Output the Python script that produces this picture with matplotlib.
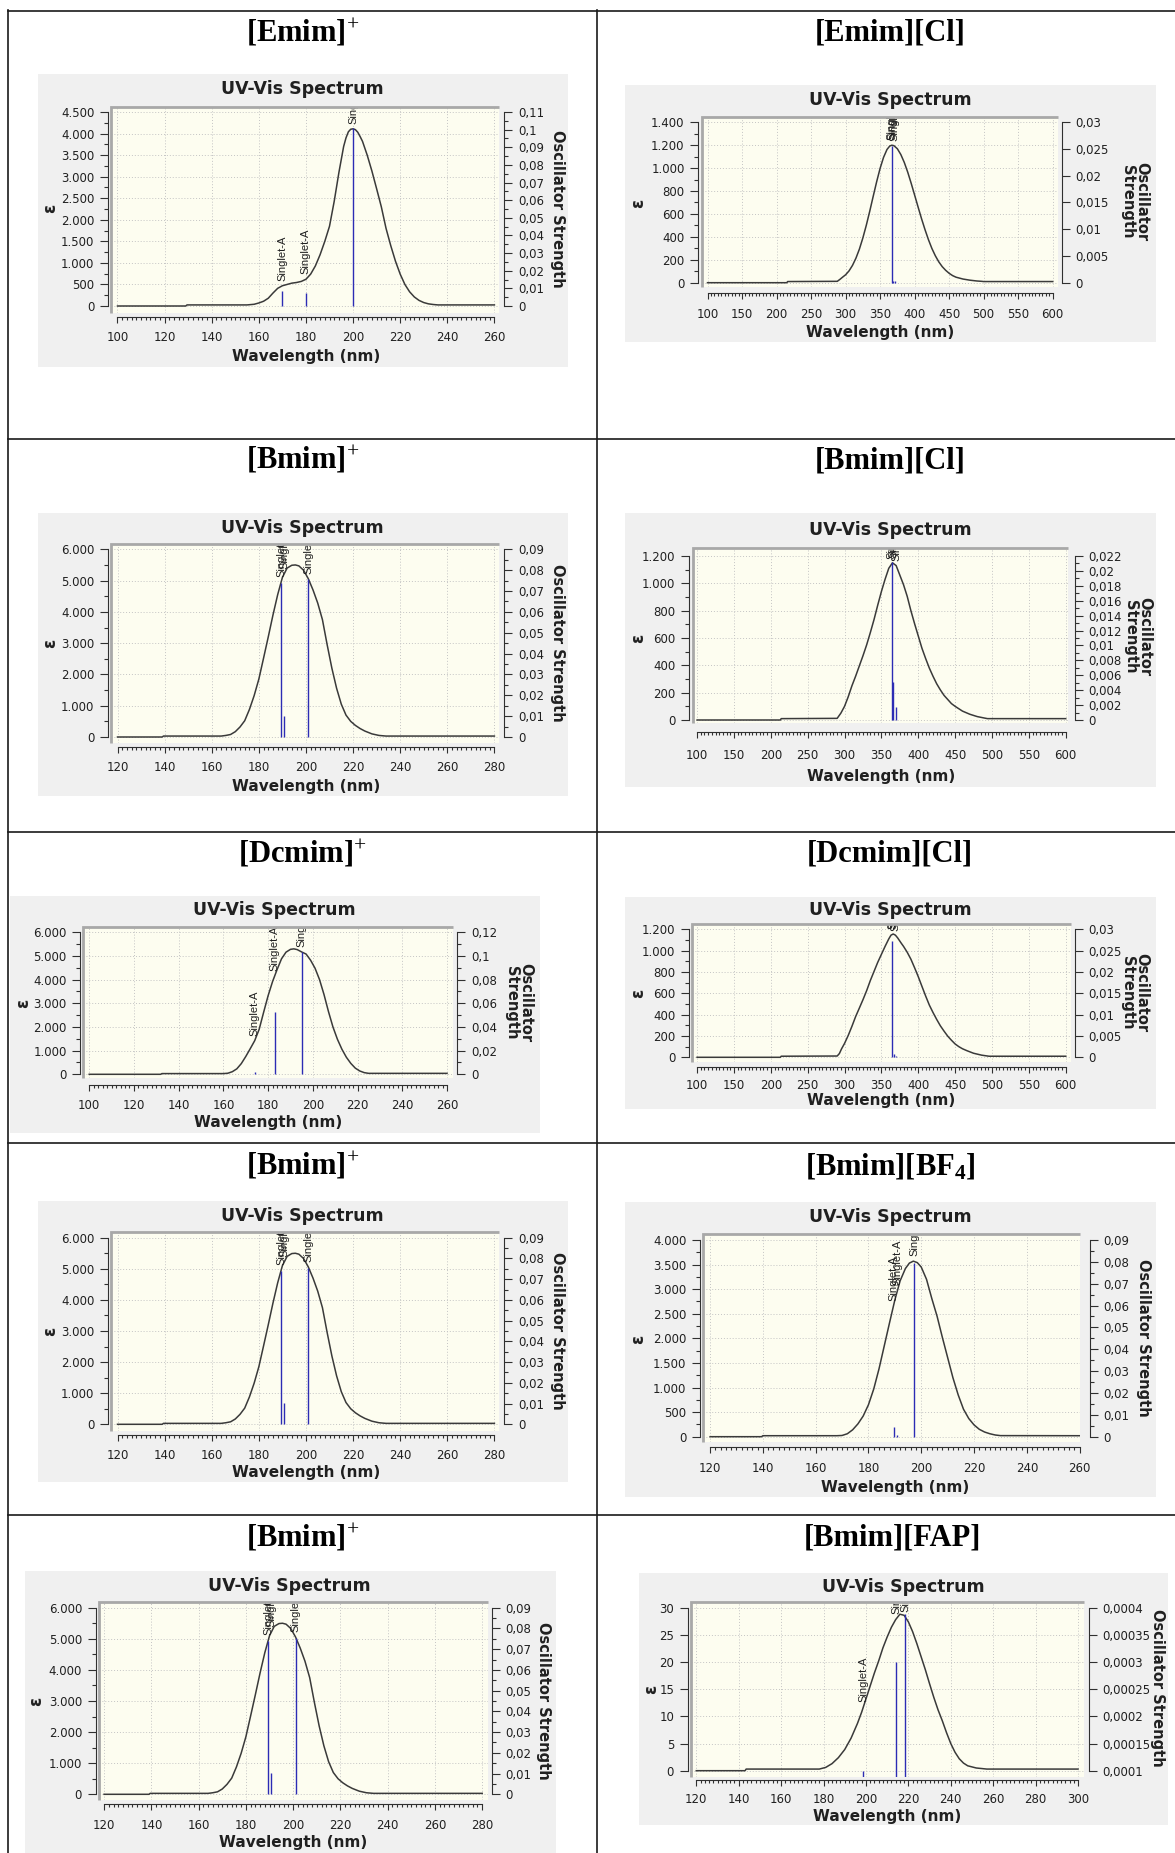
import numpy as np
import matplotlib
matplotlib.use("Agg")
import matplotlib.pyplot as plt
from matplotlib.lines import Line2D
from matplotlib.patches import Rectangle
from matplotlib.ticker import FixedLocator, FuncFormatter
from matplotlib.transforms import offset_copy

W, H = 1175, 1853

plt.rcParams["font.family"] = "DejaVu Sans"
plt.rcParams["mathtext.fontset"] = "custom"
plt.rcParams["mathtext.rm"] = "Liberation Serif"
plt.rcParams["mathtext.bf"] = "Liberation Serif:bold"
plt.rcParams["mathtext.it"] = "Liberation Serif:italic"

# ---- spectra (wavelength nm, epsilon) ----
emim_wl = [100, 129, 129.5, 155, 158, 160, 162, 164, 166, 168, 170, 172, 174, 176, 178, 180, 182,
           184, 186, 188, 190, 192, 194, 196, 197, 198, 199, 200, 201, 202, 203, 204, 206, 208,
           210, 212, 214, 216, 218, 220, 222, 224, 226, 228, 230, 232, 234, 236, 260]
emim_eps = [0, 0, 25, 25, 40, 70, 110, 180, 300, 410, 470, 500, 530, 545, 570, 620, 740,
            930, 1190, 1500, 1850, 2430, 3100, 3700, 3900, 4040, 4100, 4110, 4090, 4030, 3930, 3820, 3500, 3130,
            2720, 2300, 1800, 1400, 1040, 740, 500, 330, 210, 130, 80, 50, 35, 25, 25]
emim_stick_wl = [170, 180, 200]
emim_stick_f = [0.0085, 0.0075, 0.101]

emcl_wl = [100, 215, 216, 288, 292, 296, 300, 305, 310, 315, 320, 325, 330, 335, 340, 345, 350,
           355, 360, 364, 367, 370, 375, 380, 385, 390, 395, 400, 405, 410, 415, 420, 425, 430,
           435, 440, 445, 450, 455, 460, 470, 480, 490, 497, 500, 600]
emcl_eps = [0, 0, 10, 12, 30, 50, 69, 103, 151, 214, 293, 390, 501, 624, 754, 881, 998,
            1094, 1163, 1193, 1200, 1196, 1169, 1119, 1050, 965, 868, 765, 661, 559, 464, 376, 299, 235,
            182, 140, 108, 82, 62, 48, 32, 22, 15, 12, 10, 10]
emcl_stick_wl = [367, 368.5, 371]
emcl_stick_f = [0.0256, 0.0004, 0.0003]

bmim_wl = [120, 139, 139.5, 164, 166, 168, 170, 172, 174, 176, 178, 180, 182, 184, 186, 188, 190,
           192, 194, 195.5, 197, 199, 201, 203, 205, 207, 209, 211, 213, 215, 217, 219, 221, 223,
           225, 228, 231, 234, 280]
bmim_eps = [0, 0, 30, 30, 50, 80, 170, 320, 520, 880, 1320, 1850, 2520, 3200, 3900, 4550, 5100,
            5400, 5490, 5500, 5470, 5330, 5060, 4700, 4280, 3750, 2950, 2200, 1560, 1050, 700, 500, 370, 270,
            190, 100, 50, 30, 30]
bmim_stick_wl = [189.5, 190.8, 201]
bmim_stick_f = [0.0737, 0.0101, 0.0756]

bmcl_wl = [100, 213, 214, 290, 295, 300, 305, 310, 315, 320, 325, 330, 335, 340, 345, 350, 355,
           360, 365, 370, 375, 380, 385, 390, 395, 400, 405, 410, 415, 420, 425, 430, 435, 440,
           445, 450, 460, 470, 480, 490, 494, 600]
bmcl_eps = [0, 0, 10, 12, 50, 100, 170, 250, 320, 395, 470, 550, 640, 735, 840, 940, 1030,
            1110, 1150, 1130, 1060, 990, 905, 800, 705, 615, 525, 450, 380, 320, 265, 220, 180, 150,
            120, 100, 65, 42, 25, 14, 10, 10]
bmcl_stick_wl = [364, 366, 370]
bmcl_stick_f = [0.0212, 0.0051, 0.0018]

dcmim_wl = [100, 132, 132.5, 160, 162, 164, 166, 168, 170, 172, 174, 176, 178, 180, 182, 184, 186,
            188, 190, 191.5, 193, 195, 197, 199, 201, 203, 205, 207, 209, 211, 213, 215, 217, 219,
            221, 223, 225, 260]
dcmim_eps = [0, 0, 30, 30, 45, 110, 230, 450, 750, 1080, 1420, 1900, 2620, 3320, 3920, 4420, 4880,
             5160, 5280, 5300, 5270, 5170, 5080, 4820, 4480, 4000, 3370, 2650, 2000, 1480, 1060, 720, 460, 260,
             140, 70, 40, 40]
dcmim_stick_wl = [174, 183, 195]
dcmim_stick_f = [0.0022, 0.053, 0.1037]

dccl_wl = [100, 213, 214, 290, 293, 296, 300, 305, 310, 315, 320, 325, 330, 335, 340, 345, 350,
           355, 360, 363, 366, 369, 372, 377, 380, 385, 390, 395, 400, 405, 410, 415, 420, 425,
           430, 435, 440, 445, 450, 455, 460, 466, 475, 486, 496, 600]
dccl_eps = [0, 0, 10, 12, 35, 80, 130, 205, 290, 381, 460, 540, 625, 720, 805, 890, 965,
            1040, 1110, 1145, 1156, 1145, 1120, 1069, 1040, 985, 920, 840, 756, 665, 575, 490, 420, 355,
            295, 245, 198, 160, 125, 100, 80, 62, 38, 20, 10, 10]
dccl_stick_wl = [365, 366.5, 369.5]
dccl_stick_f = [0.0273, 0.0008, 0.0004]

bf4_wl = [120, 139.5, 140, 168, 170, 172, 174, 176, 178, 180, 182, 184, 186, 188, 190, 192, 194,
          195.5, 197, 198.5, 200, 202, 204, 206, 208, 210, 212, 214, 216, 218, 220, 222, 224, 226,
          228, 230, 260]
bf4_eps = [0, 0, 20, 20, 25, 60, 140, 260, 420, 650, 970, 1380, 1850, 2320, 2780, 3170, 3420,
           3530, 3570, 3540, 3450, 3200, 2810, 2450, 2020, 1610, 1200, 850, 560, 370, 240, 150, 95, 60,
           35, 22, 20]
bf4_stick_wl = [189.5, 191, 197.3]
bf4_stick_f = [0.0043, 0.001, 0.0795]

fap_wl = [120, 143, 143.5, 178, 181, 184, 187, 190, 193, 196, 198, 200, 202, 204, 206, 208, 210,
          212, 214, 216, 218, 220, 222, 224, 226, 228, 230, 232, 234, 236, 238, 240, 242, 244,
          246, 248, 252, 257, 300]
fap_eps = [0, 0, 0.3, 0.3, 0.6, 1.3, 2.4, 3.9, 6.0, 8.7, 10.8, 13.2, 15.6, 18.0, 20.2, 22.6, 24.6,
           26.4, 27.8, 28.8, 28.6, 27.4, 25.6, 23.4, 21.0, 18.6, 16.0, 13.5, 11.2, 9.2, 7.0, 5.0, 3.4, 2.2,
           1.4, 0.9, 0.5, 0.3, 0.3]
fap_stick_wl = [198.8, 214.3, 218.5]
fap_stick_f = [0.0001, 0.0003, 0.000388]

OSC1 = "Oscillator Strength"
OSC2 = "Oscillator\nStrength"

# axis ranges: x (first, last, major, minor), eps (top, major, minor), osc (low, high, major, minor)
PANELS = [
    dict(title="[Emim]$^{+}$", wl=emim_wl, eps=emim_eps, sw=emim_stick_wl, sf=emim_stick_f,
         xr=(100, 260, 20, 2), yr=(4500, 500, 250), rr=(0, 0.11, 0.01, 0.005), rl=OSC1,
         bg=(38.3, 74, 567.5, 367), head=(302.5, 33), frame=(111, 107, 499.4, 313),
         xpx=(117.5, 494.4), ypx=(306, 112), lsp=108, rsp=504.4, xax=317, ticky=336,
         uv=(302, 89.3), xlab=357, epos=(50, 208), rpos=(557, 208.8)),
    dict(title="[Emim][Cl]", wl=emcl_wl, eps=emcl_eps, sw=emcl_stick_wl, sf=emcl_stick_f,
         xr=(100, 600, 50, 5), yr=(1400, 200, 100), rr=(0, 0.03, 0.005, None), rl=OSC2,
         bg=(625.4, 85, 1156, 342.3), head=(890, 33.3), frame=(702, 116.7, 1057.5, 286.7),
         xpx=(707.5, 1052.7), ypx=(282.7, 122.3), lsp=698.2, rsp=1062, xax=293.3, ticky=312.7,
         uv=(890, 100), xlab=332.7, epos=(638.5, 203.3), rpos=(1134.8, 201.7)),
    dict(title="[Bmim]$^{+}$", wl=bmim_wl, eps=bmim_eps, sw=bmim_stick_wl, sf=bmim_stick_f,
         xr=(120, 280, 20, 2), yr=(6000, 1000, 500), rr=(0, 0.09, 0.01, 0.005), rl=OSC1,
         bg=(38.3, 513.3, 567.5, 795.7), head=(302.5, 460), frame=(111, 544.3, 499.4, 743.3),
         xpx=(117.5, 494.4), ypx=(737, 549.3), lsp=108, rsp=504.4, xax=747.3, ticky=766,
         uv=(302, 527.7), xlab=786, epos=(50, 643.3), rpos=(557, 643)),
    dict(title="[Bmim][Cl]", wl=bmcl_wl, eps=bmcl_eps, sw=bmcl_stick_wl, sf=bmcl_stick_f,
         xr=(100, 600, 50, 5), yr=(1200, 200, 100), rr=(0, 0.022, 0.002, 0.001), rl=OSC2,
         bg=(625.4, 513.3, 1156, 787.3), head=(890, 460.8), frame=(692.6, 548.3, 1067.6, 723.3),
         xpx=(697.1, 1065.7), ypx=(720, 556), lsp=688.9, rsp=1075, xax=731.7, ticky=753.3,
         uv=(890.4, 530), xlab=776.7, epos=(638.5, 638.3), rpos=(1137.5, 636.7)),
    dict(title="[Dcmim]$^{+}$", wl=dcmim_wl, eps=dcmim_eps, sw=dcmim_stick_wl, sf=dcmim_stick_f,
         xr=(100, 260, 20, 2), yr=(6000, 1000, 500), rr=(0, 0.12, 0.02, 0.01), rl=OSC2,
         bg=(9.6, 896, 539.6, 1132.7), head=(302.5, 854), frame=(83.4, 927.3, 452.7, 1078.3),
         xpx=(89.2, 447), ypx=(1074.3, 932.3), lsp=80.4, rsp=457.3, xax=1085, ticky=1103.3,
         uv=(274.4, 910), xlab=1122.7, epos=(23, 1003.3), rpos=(518.6, 1002.5)),
    dict(title="[Dcmim][Cl]", wl=dccl_wl, eps=dccl_eps, sw=dccl_stick_wl, sf=dccl_stick_f,
         xr=(100, 600, 50, 5), yr=(1200, 200, 100), rr=(0, 0.03, 0.005, None), rl=OSC2,
         bg=(625.4, 896.7, 1156, 1109.3), head=(890, 854), frame=(691.9, 924.3, 1071.3, 1061.7),
         xpx=(697.1, 1065.7), ypx=(1057.3, 929.3), lsp=688.9, rsp=1075, xax=1066.7, ticky=1083.3,
         uv=(890, 910), xlab=1100.7, epos=(638.5, 993.3), rpos=(1134.6, 992.5)),
    dict(title="[Bmim]$^{+}$", wl=bmim_wl, eps=bmim_eps, sw=bmim_stick_wl, sf=bmim_stick_f,
         xr=(120, 280, 20, 2), yr=(6000, 1000, 500), rr=(0, 0.09, 0.01, 0.005), rl=OSC1,
         bg=(38.3, 1201, 567.5, 1482.3), head=(302.5, 1166), frame=(111, 1232.3, 499.4, 1431),
         xpx=(117.5, 494.4), ypx=(1424.3, 1237.7), lsp=108, rsp=504.4, xax=1435, ticky=1453.3,
         uv=(302, 1216), xlab=1472.3, epos=(50, 1331.7), rpos=(557, 1330.8)),
    dict(title=r"[Bmim][BF$_{\mathbf{4}}$]", wl=bf4_wl, eps=bf4_eps, sw=bf4_stick_wl, sf=bf4_stick_f,
         xr=(120, 260, 20, 2), yr=(4000, 500, 250), rr=(0, 0.09, 0.01, 0.005), rl=OSC1,
         bg=(625.4, 1201.7, 1156, 1497.3), head=(890, 1166.7), frame=(703, 1234.3, 1080, 1441.7),
         xpx=(710.1, 1079.6), ypx=(1436.7, 1240), lsp=700.8, rsp=1090, xax=1446.7, ticky=1466.7,
         uv=(890, 1217.3), xlab=1487.3, epos=(637.8, 1339.3), rpos=(1144, 1338)),
    dict(title="[Bmim]$^{+}$", wl=bmim_wl, eps=bmim_eps, sw=bmim_stick_wl, sf=bmim_stick_f,
         xr=(120, 280, 20, 2), yr=(6000, 1000, 500), rr=(0, 0.09, 0.01, 0.005), rl=OSC1,
         bg=(24.9, 1571, 555.7, 1853), head=(302.5, 1537.5), frame=(98.7, 1602.3, 488, 1800),
         xpx=(104.1, 482.2), ypx=(1794.3, 1607.7), lsp=95.7, rsp=491.8, xax=1804.3, ticky=1823.3,
         uv=(289.7, 1586), xlab=1842.3, epos=(36.4, 1701.7), rpos=(543.4, 1700.8)),
    dict(title="[Bmim][FAP]", wl=fap_wl, eps=fap_eps, sw=fap_stick_wl, sf=fap_stick_f,
         xr=(120, 300, 20, 2), yr=(30, 5, None), rr=(0.0001, 0.0004, 0.00005, None), rl=OSC1,
         bg=(638.5, 1572.7, 1168, 1825), head=(892, 1537.5), frame=(690.7, 1601.7, 1084.4, 1776.7),
         xpx=(696.3, 1078), ypx=(1770.7, 1607.7), lsp=687.8, rsp=1088.9, xax=1780, ticky=1797.3,
         uv=(903.4, 1586.7), xlab=1816, epos=(651.6, 1689.3), rpos=(1157, 1688)),
]

BG = "#f0f0f0"
PLOT_BG = "#fdfdf0"
GRID = "#c4c4c4"
FRAME = "#a8a8a8"
CURVE = "#3a3a3a"
STICK = "#2c2cb4"
INK = "#202020"
PT = 0.72  # points per pixel at dpi 100


def eps_label(v, pos):
    return f"{int(round(v)):,}".replace(",", ".")


def osc_label(v, pos):
    s = f"{round(v, 7):.6f}".rstrip("0").rstrip(".")
    return s.replace(".", ",")


def ticks(lo, hi, step):
    return np.arange(lo, hi + step / 2, step)


def draw_panel(fig, p):
    x0, x1, xmaj, xmin_ = p["xr"]
    ytop, ymaj, ymin_ = p["yr"]
    r0, r1, rmaj, rmin_ = p["rr"]
    fl, ft, fr, fb = p["frame"]
    bl, bt, br, bb = p["bg"]

    fig.patches.append(Rectangle((bl / W, 1 - bb / H), (br - bl) / W, (bb - bt) / H,
                                 transform=fig.transFigure, facecolor=BG, edgecolor="none", zorder=-5))
    fig.text(p["head"][0] / W, 1 - p["head"][1] / H, p["title"], family="Liberation Serif",
             weight="bold", size=22, ha="center", va="center")
    fig.text(p["uv"][0] / W, 1 - p["uv"][1] / H, "UV-Vis Spectrum", weight="bold", size=12.5,
             ha="center", va="center", color=INK)

    ax = fig.add_axes([fl / W, 1 - fb / H, (fr - fl) / W, (fb - ft) / H])
    ax.set_facecolor(PLOT_BG)
    sx = (p["xpx"][1] - p["xpx"][0]) / (x1 - x0)
    ax.set_xlim(x0 - (p["xpx"][0] - fl) / sx, x0 + (fr - p["xpx"][0]) / sx)
    sy = (p["ypx"][0] - p["ypx"][1]) / ytop
    lo, hi = -(fb - p["ypx"][0]) / sy, (p["ypx"][0] - ft) / sy
    ax.set_ylim(lo, hi)

    ax.xaxis.set_major_locator(FixedLocator(ticks(x0, x1, xmaj)))
    ax.xaxis.set_minor_locator(FixedLocator(ticks(x0, x1, xmin_)))
    ax.yaxis.set_major_locator(FixedLocator(ticks(0, ytop, ymaj)))
    if ymin_:
        ax.yaxis.set_minor_locator(FixedLocator(ticks(0, ytop, ymin_)))
    ax.yaxis.set_major_formatter(FuncFormatter(eps_label))

    xpad = max(p["ticky"] - p["xax"] - 6 - 4.7, 1) * PT
    ax.tick_params(axis="y", which="major", length=5.8, width=0.8, pad=4.0, labelsize=8.5,
                   color="#303030", labelcolor=INK)
    ax.tick_params(axis="y", which="minor", length=2.9, width=0.8, color="#303030")
    ax.tick_params(axis="x", which="major", length=4.3, width=0.8, pad=xpad, labelsize=8.5,
                   color="#303030", labelcolor=INK)
    ax.tick_params(axis="x", which="minor", length=2.2, width=0.8, color="#303030")
    ax.grid(True, which="major", color=GRID, linestyle=(0, (1, 2)), linewidth=0.7)

    ax.spines["top"].set_visible(False)
    ax.spines["right"].set_visible(False)
    ax.spines["left"].set_position(("outward", max(fl - p["lsp"], 3) * PT))
    ax.spines["left"].set_bounds(0, ytop)
    ax.spines["bottom"].set_position(("outward", (p["xax"] - fb) * PT))
    ax.spines["bottom"].set_bounds(x0, x1)
    for s in ("left", "bottom"):
        ax.spines[s].set_color("#303030")
        ax.spines[s].set_linewidth(0.8)

    ax.plot(p["wl"], p["eps"], color=CURVE, lw=1.1, zorder=3, solid_joinstyle="round")

    lab_tr = offset_copy(ax.transData, fig=fig, y=5, units="dots")
    for x in p["sw"]:
        yv = np.interp(x, p["wl"], p["eps"])
        t = ax.text(x, yv, "Singlet-A", transform=lab_tr, rotation=90, ha="center", va="bottom",
                    size=8, family="Liberation Sans", color=INK, zorder=4)
        t.set_clip_box(ax.bbox)
        t.set_clip_on(True)

    ax2 = ax.twinx()
    k = (r1 - r0) / ytop
    ax2.set_ylim(r0 + lo * k, r0 + hi * k)
    ax2.yaxis.set_major_locator(FixedLocator(ticks(r0, r1, rmaj)))
    if rmin_:
        ax2.yaxis.set_minor_locator(FixedLocator(ticks(r0, r1, rmin_)))
    ax2.yaxis.set_major_formatter(FuncFormatter(osc_label))
    ax2.tick_params(axis="y", which="major", length=5.8, width=0.8, pad=4.0, labelsize=8.5,
                    color="#303030", labelcolor=INK)
    ax2.tick_params(axis="y", which="minor", length=2.9, width=0.8, color="#303030")
    for s in ("top", "left", "bottom"):
        ax2.spines[s].set_visible(False)
    ax2.spines["right"].set_position(("outward", (p["rsp"] - fr) * PT))
    ax2.spines["right"].set_bounds(r0, r1)
    ax2.spines["right"].set_color("#303030")
    ax2.spines["right"].set_linewidth(0.8)

    ax2.vlines(p["sw"], 0, p["sf"], color=STICK, lw=1.0, zorder=3)
    ax2.plot([0, 0, 1], [0, 1, 1], transform=ax2.transAxes, color=FRAME, lw=2.0, clip_on=False,
             solid_joinstyle="miter", solid_capstyle="butt", zorder=5)

    xc = (p["xpx"][0] + p["xpx"][1]) / 2
    fig.text(xc / W, 1 - p["xlab"] / H, "Wavelength (nm)", weight="bold", size=11,
             ha="center", va="center", color=INK)
    fig.text(p["epos"][0] / W, 1 - p["epos"][1] / H, "ε", weight="bold", size=12, rotation=90,
             ha="center", va="center", color=INK)
    fig.text(p["rpos"][0] / W, 1 - p["rpos"][1] / H, p["rl"], weight="bold", size=10.5,
             rotation=-90, ha="center", va="center", multialignment="center", linespacing=0.95,
             color=INK)


fig = plt.figure(figsize=(W / 100, H / 100), dpi=100)
fig.patch.set_facecolor("white")

for p in PANELS:
    draw_panel(fig, p)

# table rules
for x in (8, 597):
    fig.add_artist(Line2D([x / W, x / W], [1 - 10 / H, 0], color="#1a1a1a", lw=1.2))
for y in (10.5, 438.5, 832, 1143, 1515):
    fig.add_artist(Line2D([8 / W, 1], [1 - y / H, 1 - y / H], color="#1a1a1a", lw=1.2))

fig.savefig("out.png", dpi=100)
